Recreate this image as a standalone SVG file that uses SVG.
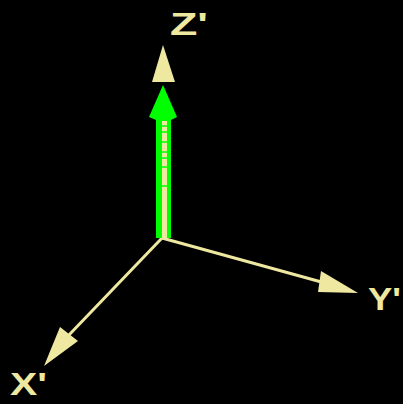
<svg xmlns="http://www.w3.org/2000/svg" width="403" height="404" viewBox="0 0 403 404">
<style>
.ax{stroke:#eee8a0;stroke-width:3;fill:none;stroke-linecap:round}
.cone{fill:#eee8a0}
.lbl{fill:#eee8a0;font-family:"Liberation Sans",Arial,sans-serif;font-weight:bold;font-size:31px}
.g{fill:#00ff00}
</style>
<rect width="403" height="404" fill="#000"/>
<g id="connectors">
<line class="ax" x1="162" y1="238" x2="325" y2="283"/>
<line class="ax" x1="162" y1="238" x2="68" y2="336"/>
</g>
<g id="z-axis">
<polygon class="cone" points="163,45 152,82 175,82"/>
<rect class="g" x="156" y="116" width="15" height="122"/>
<polygon class="g" points="163,85 149,117 156,120 171,120 177,117"/>
<rect x="162" y="121" width="5" height="117" fill="#eee8a0"/>
<g stroke="#00ff00" stroke-width="1.5">
<line x1="162" y1="126" x2="167" y2="126"/>
<line x1="162" y1="132" x2="167" y2="132"/>
<line x1="162" y1="142" x2="167" y2="142"/>
<line x1="162" y1="152" x2="167" y2="152"/>
<line x1="162" y1="158" x2="167" y2="158"/>
<line x1="162" y1="167" x2="167" y2="167"/>
<line x1="162" y1="186" x2="167" y2="186"/>
</g>
<text class="lbl" x="170" y="35" textLength="38" lengthAdjust="spacingAndGlyphs">Z'</text>
</g>
<g id="y-axis">
<polygon class="cone" points="358,293 321,271 318,292"/>
<text class="lbl" x="368" y="310" font-size="29" textLength="33" lengthAdjust="spacingAndGlyphs">Y'</text>
</g>
<g id="x-axis">
<polygon class="cone" points="44,366 60,327 78,341"/>
<text class="lbl" x="10" y="395" textLength="37" lengthAdjust="spacingAndGlyphs">X'</text>
</g>
</svg>
